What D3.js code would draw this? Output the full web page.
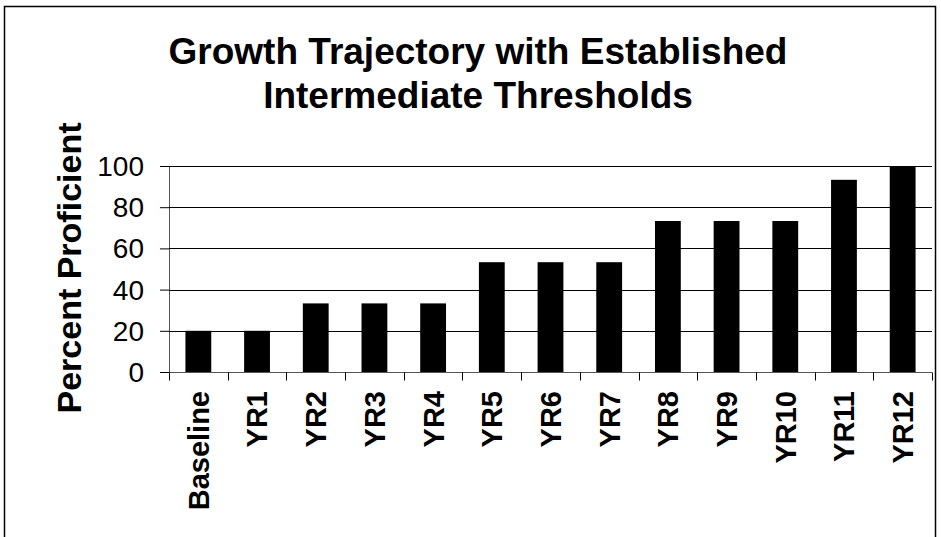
<!DOCTYPE html>
<html>
<head>
<meta charset="utf-8">
<script src="https://cdn.jsdelivr.net/npm/d3@7"></script>
<style>
  html, body { margin: 0; padding: 0; background: #fff; }
  svg { display: block; }
  text { font-family: Arial, "Liberation Sans", sans-serif; fill: #000; }
</style>
</head>
<body>
<svg id="chart" width="941" height="537"></svg>
<script>
const categories = ["Baseline", "YR1", "YR2", "YR3", "YR4", "YR5", "YR6", "YR7", "YR8", "YR9", "YR10", "YR11", "YR12"];
const values = [20, 20, 33.3, 33.3, 33.3, 53.3, 53.3, 53.3, 73.3, 73.3, 73.3, 93.3, 100];
const yTicks = [0, 20, 40, 60, 80, 100];
const titleLines = ["Growth Trajectory with Established", "Intermediate Thresholds"];
const yTitle = "Percent Proficient";

const svg = d3.select("#chart");
const plot = { left: 169, right: 932, top: 166, bottom: 372 };

// outer border
svg.append("rect")
  .attr("x", 4.5).attr("y", 6.5)
  .attr("width", 931).attr("height", 600)
  .attr("fill", "none").attr("stroke", "#000").attr("stroke-width", 1.5);

const x = d3.scaleBand().domain(categories).range([plot.left, plot.right]).paddingInner(0.56).paddingOuter(0.28);
const xb = d3.scaleBand().domain(categories).range([plot.left, plot.right]);
const y = d3.scaleLinear().domain([0, 100]).range([plot.bottom, plot.top]);

// y axis with outward ticks
const yAxis = d3.axisLeft(y).tickValues(yTicks).tickSize(9).tickFormat("");
const gy = svg.append("g").attr("transform", `translate(${plot.left},0)`).call(yAxis);
gy.select(".domain").attr("stroke", "#555");
gy.selectAll(".tick line").attr("stroke", "#000");

// gridlines
svg.append("g").selectAll("line").data(yTicks.filter(d => d > 0)).join("line")
  .attr("x1", plot.left).attr("x2", plot.right)
  .attr("y1", d => Math.round(y(d)) + 0.5).attr("y2", d => Math.round(y(d)) + 0.5)
  .attr("stroke", "#000").attr("stroke-width", 1);

// y tick labels
svg.append("g").selectAll("text").data(yTicks).join("text")
  .attr("x", 144).attr("y", d => y(d))
  .attr("dy", "0.36em")
  .attr("text-anchor", "end")
  .attr("font-size", 28)
  .text(d => d);

// bars
svg.append("g").selectAll("rect").data(values).join("rect")
  .attr("x", (d, i) => x(categories[i]))
  .attr("width", x.bandwidth())
  .attr("y", d => y(d))
  .attr("height", d => y(0) - y(d))
  .attr("fill", "#000");

// x axis
const xAxisG = svg.append("g").attr("transform", `translate(0,${plot.bottom + 0.5})`);
xAxisG.append("line").attr("x1", plot.left).attr("x2", plot.right).attr("stroke", "#555");
xAxisG.selectAll("line.t").data(categories.map(c => xb(c)).concat([plot.right])).join("line")
  .attr("class", "t")
  .attr("x1", d => Math.round(d) + 0.5).attr("x2", d => Math.round(d) + 0.5)
  .attr("y1", 0).attr("y2", 8).attr("stroke", "#000");

// x labels
svg.append("g").selectAll("text").data(categories).join("text")
  .attr("transform", d => `translate(${x(d) + x.bandwidth() / 2},391) rotate(-90)`)
  .attr("dy", "0.36em")
  .attr("text-anchor", "end")
  .attr("font-size", 29)
  .attr("font-weight", "bold")
  .text(d => d);

// title
svg.append("g").selectAll("text").data(titleLines).join("text")
  .attr("x", 478).attr("y", (d, i) => 64 + i * 44)
  .attr("text-anchor", "middle")
  .attr("font-size", 37)
  .attr("font-weight", "bold")
  .text(d => d);

// y title
svg.append("text")
  .attr("transform", `translate(69,268) rotate(-90)`)
  .attr("dy", "0.36em")
  .attr("text-anchor", "middle")
  .attr("font-size", 34)
  .attr("font-weight", "bold")
  .text(yTitle);
</script>
</body>
</html>
